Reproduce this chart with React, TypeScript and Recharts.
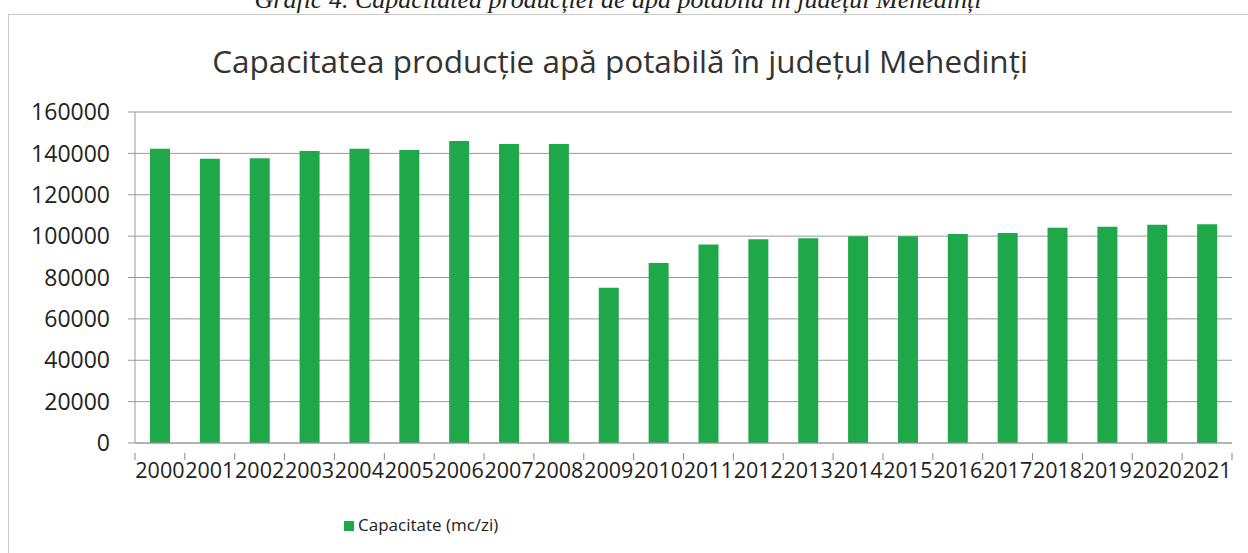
import React from 'react';
import { BarChart, Bar, XAxis, YAxis, CartesianGrid, Legend } from 'recharts';

// years on the category axis
const years = [
  '2000', '2001', '2002', '2003', '2004', '2005', '2006', '2007', '2008', '2009', '2010',
  '2011', '2012', '2013', '2014', '2015', '2016', '2017', '2018', '2019', '2020', '2021',
];

// capacity in mc/zi
const capacitate = [
  142200, 137400, 137700, 141100, 142200, 141600, 146000, 144500, 144500, 75000, 87000,
  96000, 98500, 99000, 100000, 100000, 101000, 101500, 104000, 104500, 105500, 105800,
];

const yTicks = [0, 20000, 40000, 60000, 80000, 100000, 120000, 140000, 160000];

const data = years.map((year, i) => ({ year, capacitate: capacitate[i] }));

const FONT = '"Open Sans", sans-serif';

// Excel style: tick marks sit between categories, label under the middle
const YearTick = (props: any) => {
  const { x, y, payload, index, visibleTicksCount } = props;
  const half = payload.offset || 0;
  return (
    <g>
      <line x1={x - half} y1={y - 10} x2={x - half} y2={y - 3} stroke="#888" />
      {index === visibleTicksCount - 1 && (
        <line x1={x + half} y1={y - 10} x2={x + half} y2={y - 3} stroke="#888" />
      )}
      <text x={x} y={y} dy="0.71em" textAnchor="middle" fill="#222" fontSize={21.5} fontFamily={FONT}>
        {payload.value}
      </text>
    </g>
  );
};

export default function App() {
  return (
    <div style={{ position: 'absolute', left: 0, top: 0, width: 1248, height: 553, overflow: 'hidden', background: '#fff' }}>
      <div
        style={{
          position: 'absolute',
          top: -15,
          left: 0,
          width: 1236,
          textAlign: 'center',
          fontFamily: '"Liberation Serif", serif',
          fontStyle: 'italic',
          fontSize: 26,
          color: '#222',
          whiteSpace: 'nowrap',
        }}
      >
        Grafic 4. Capacitatea producției de apă potabilă în județul Mehedinți
      </div>
      <div
        style={{
          position: 'absolute',
          left: 8,
          top: 14,
          width: 1260,
          height: 600,
          borderLeft: '1px solid #c8c8c8',
          borderTop: '1px solid #c8c8c8',
        }}
      />
      <div
        style={{
          position: 'absolute',
          top: 39,
          left: 0,
          width: 1240,
          textAlign: 'center',
          fontFamily: FONT,
          fontSize: 31.5,
          color: '#333',
          whiteSpace: 'nowrap',
        }}
      >
        Capacitatea producție apă potabilă în județul Mehedinți
      </div>
      <div style={{ position: 'absolute', left: 0, top: 0 }}>
        <BarChart
          width={1248}
          height={553}
          data={data}
          margin={{ top: 112, right: 16, left: 0, bottom: 17 }}
          barSize={20}
        >
          <CartesianGrid vertical={false} stroke="#999" />
          <XAxis
            dataKey="year"
            stroke="#999"
            tickLine={false}
            tick={<YearTick />}
            tickMargin={14}
            height={70}
            interval={0}
          />
          <YAxis
            width={135}
            domain={[0, 160000]}
            ticks={yTicks}
            stroke="#999"
            tickSize={7}
            tickMargin={18}
            tick={{ fill: '#222', fontSize: 23, fontFamily: FONT }}
          />
          <Legend
            verticalAlign="bottom"
            align="left"
            iconType="square"
            iconSize={10}
            wrapperStyle={{ fontFamily: FONT, fontSize: 17, left: 344, width: 'auto' }}
            formatter={(value) => <span style={{ color: '#222' }}>{value}</span>}
          />
          <Bar dataKey="capacitate" name="Capacitate (mc/zi)" fill="#1fa84a" isAnimationActive={false} />
        </BarChart>
      </div>
    </div>
  );
}
